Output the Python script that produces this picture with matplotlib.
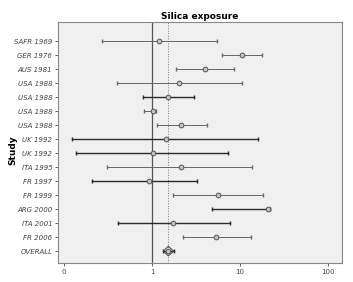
import numpy as np
import matplotlib
matplotlib.use('Agg')
import matplotlib.pyplot as plt

# study labels, top to bottom
studies = ['SAFR 1969', 'GER 1976', 'AUS 1981', 'USA 1988', 'USA 1988', 'USA 1988',
           'USA 1988', 'UK 1992', 'UK 1992', 'ITA 1995', 'FR 1997', 'FR 1999',
           'ARG 2000', 'ITA 2001', 'FR 2006', 'OVERALL']
# point estimate and 95% CI
est = [1.21, 10.5, 3.97, 2.03, 1.53, 1.02, 2.13, 1.43, 1.02, 2.13, 0.92, 5.67, 21.0, 1.72, 5.38, 1.53]
lower = [0.27, 6.19, 1.86, 0.40, 0.78, 0.82, 1.13, 0.124, 0.137, 0.31, 0.206, 1.72, 4.77, 0.41, 2.27, 1.35]
upper = [5.43, 17.9, 8.6, 10.5, 2.98, 1.11, 4.18, 16.1, 7.36, 13.8, 3.27, 18.4, 21.9, 7.7, 13.2, 1.76]
# heavier weight studies drawn darker
heavy = [0, 0, 0, 0, 1, 0, 0, 1, 1, 0, 1, 0, 1, 1, 0, 1]
pooled = 1.53

fig = plt.figure(figsize=(3.53, 2.82), dpi=100)
ax = fig.add_axes([0.164, 0.067, 0.805, 0.855])
ax.set_facecolor('#f0f0f0')
ax.set_xscale('log')
ax.set_xlim(0.085, 145)
ax.set_ylim(15.86, -1.36)

ax.axvline(1, color='#555555', linewidth=0.9, zorder=1)
ax.axvline(pooled, color='#777777', linewidth=0.7, linestyle=':', zorder=1)

y = np.arange(len(studies))
for i in range(len(studies)):
    col = '#2a2a2a' if heavy[i] else '#666666'
    lw = 1.0 if heavy[i] else 0.7
    ax.plot([lower[i], upper[i]], [y[i], y[i]], color=col, linewidth=lw, zorder=2)
    ax.plot([lower[i], upper[i]], [y[i], y[i]], linestyle='none', marker='|',
            markersize=3.5, color=col, markeredgewidth=1.0, zorder=2)
    if i == len(studies) - 1:
        ax.plot([lower[i], est[i], upper[i], est[i], lower[i]],
                [y[i], y[i] - 0.35, y[i], y[i] + 0.35, y[i]],
                color='#444444', linewidth=0.7, zorder=3)
    ax.plot(est[i], y[i], marker='o', markersize=3.4, markerfacecolor='#c4c4c4',
            markeredgecolor='#555555', markeredgewidth=0.7, zorder=4)

ax.set_yticks(y)
ax.set_yticklabels(studies, fontsize=5, style='italic', color='#444444')
ax.set_xticks([0.1, 1, 10, 100])
ax.set_xticklabels(['0', '1', '10', '100'], fontsize=5, color='#444444')
ax.xaxis.set_minor_locator(matplotlib.ticker.NullLocator())
ax.tick_params(axis='both', length=2.5, width=0.6, color='#444444', pad=1.5)
for s in ax.spines.values():
    s.set_color('#888888')
    s.set_linewidth(0.8)

ax.set_ylabel('Study', fontsize=6.5, fontweight='bold')
ax.yaxis.set_label_coords(-0.141, 0.47)
ax.set_title('Silica exposure', fontsize=6.5, fontweight='bold', pad=2)

plt.savefig('out.png', dpi=100)
